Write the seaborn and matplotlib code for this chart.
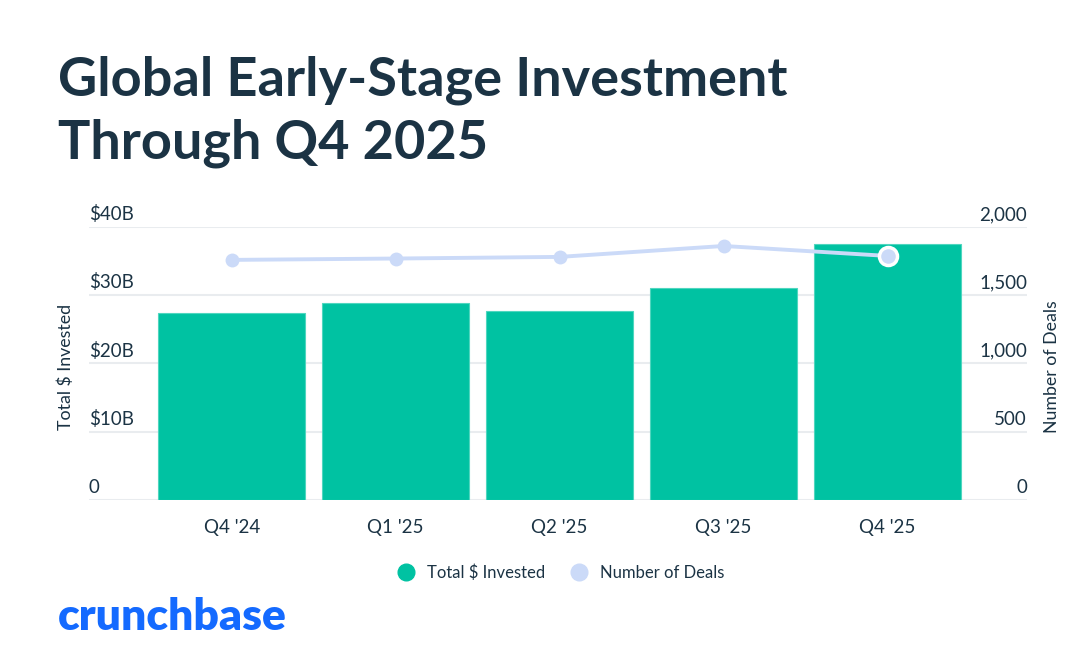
import seaborn as sns
from matplotlib import pyplot as plt
from matplotlib.lines import Line2D
import matplotlib.transforms as mtransforms
import pandas as pd

quarters = ["Q4 '24", "Q1 '25", "Q2 '25", "Q3 '25", "Q4 '25"]
invested_b = [27.4, 28.9, 27.7, 31.1, 37.5]
deals = [1759, 1769, 1781, 1861, 1788]

left_ticks = [0, 10, 20, 30, 40]
left_labels = ['0', '$10B', '$20B', '$30B', '$40B']
right_ticks = [0, 500, 1000, 1500, 2000]
right_labels = ['0', '500', '1,000', '1,500', '2,000']

GREEN = '#00c2a2'
LINE = '#cbdaf8'
DARK = '#1b3344'
GRID = '#e9ecef'

sns.set_style('white')
plt.rcParams['font.family'] = ['Lato', 'DejaVu Sans']

df = pd.DataFrame({'quarter': quarters, 'invested': invested_b, 'deals': deals})

fig = plt.figure(figsize=(10.92, 6.51), dpi=100)
ax = fig.add_axes([0.0815, 0.232, 0.859, 0.4193])

sns.barplot(data=df, x='quarter', y='invested', color=GREEN, width=0.9,
            saturation=1, edgecolor='#4fd6bf', linewidth=0.8, ax=ax)
ax.set_ylim(0, 40)
ax.set_xlim(-0.87, 4.85)
ax.set_yticks(left_ticks)
ax.set_yticklabels([])
ax.tick_params(axis='y', length=0)
ax.tick_params(axis='x', length=0, pad=14, labelsize=13.5, labelcolor=DARK)
ax.set_xlabel('')
ax.set_ylabel('')
for s in ax.spines.values():
    s.set_visible(False)
ax.grid(axis='y', color=GRID, linewidth=1.5)
ax.set_axisbelow(True)

# tick labels sit just above their gridlines, inside the plot area
up = mtransforms.offset_copy(ax.get_yaxis_transform(), fig=fig, x=0, y=5, units='points')
for t, lab in zip(left_ticks, left_labels):
    ax.text(0, t, lab, transform=up, ha='left', va='baseline', fontsize=13.5, color=DARK)

ax2 = ax.twinx()
x_pos = list(range(len(quarters)))
sns.lineplot(x=x_pos, y=deals, color=LINE, linewidth=2.8, marker='o', markersize=10,
             markeredgewidth=0, ax=ax2)
ax2.plot(x_pos[-1], deals[-1], 'o', color=LINE, markersize=13, markeredgecolor='white',
         markeredgewidth=2.5)
ax2.set_ylim(0, 2000)
ax2.set_xlim(-0.87, 4.85)
ax2.set_yticks(right_ticks)
ax2.set_yticklabels([])
ax2.tick_params(axis='y', length=0)
for s in ax2.spines.values():
    s.set_visible(False)

up2 = mtransforms.offset_copy(ax2.get_yaxis_transform(), fig=fig, x=0, y=5, units='points')
for t, lab in zip(right_ticks, right_labels):
    ax2.text(1, t, lab, transform=up2, ha='right', va='baseline', fontsize=13.5, color=DARK)

fig.text(0.0604, 0.437, 'Total $ Invested', rotation=90, ha='center', va='center',
         fontsize=12.8, color=DARK)
fig.text(0.963, 0.437, 'Number of Deals', rotation=90, ha='center', va='center',
         fontsize=12.8, color=DARK)

fig.text(0.053, 0.853, 'Global Early-Stage Investment', fontsize=39, fontweight='bold',
         color=DARK, va='baseline')
fig.text(0.053, 0.756, 'Through Q4 2025', fontsize=39, fontweight='bold',
         color=DARK, va='baseline')

handles = [
    Line2D([], [], marker='o', linestyle='none', markersize=12, color=GREEN),
    Line2D([], [], marker='o', linestyle='none', markersize=12, color=LINE),
]
fig.legend(handles, ['Total $ Invested', 'Number of Deals'], loc='center',
           bbox_to_anchor=(0.51, 0.12), ncol=2, frameon=False, fontsize=12,
           handletextpad=0.3, columnspacing=1.0, labelcolor=DARK)

fig.text(0.053, 1 - 630 / 651, 'crunchbase', fontsize=32, fontweight='heavy',
         color='#146aff', va='baseline')

fig.savefig('out.png', dpi=100)
